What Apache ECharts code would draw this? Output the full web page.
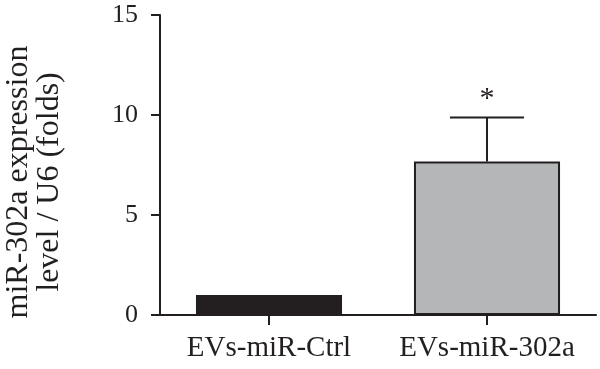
<!DOCTYPE html>
<html>
<head>
<meta charset="utf-8">
<script src="https://cdn.jsdelivr.net/npm/echarts@6/dist/echarts.min.js"></script>
<style>html,body{margin:0;padding:0;background:#fff}#c{width:600px;height:369px}</style>
</head>
<body>
<div id="c"></div>
<script>
const categories = ['EVs-miR-Ctrl', 'EVs-miR-302a'];
const means = [1.0, 7.68];
const errors = [0, 2.2];
const significance = ['', '*'];
const yTicks = [0, 5, 10, 15];

const FONT = 'Liberation Serif';
const chart = echarts.init(document.getElementById('c'));
chart.setOption({
  animation: false,
  grid: { left: 160, right: 4, top: 15, bottom: 54, outerBoundsMode: 'none', containLabel: false },
  xAxis: {
    type: 'category',
    data: categories,
    axisLine: { lineStyle: { color: '#231f20', width: 2 } },
    axisTick: { show: true, alignWithLabel: true, length: 10, lineStyle: { color: '#231f20', width: 2 } },
    axisLabel: { color: '#231f20', fontFamily: FONT, fontSize: 29, margin: 19, interval: 0, hideOverlap: false }
  },
  yAxis: {
    type: 'value',
    min: yTicks[0], max: yTicks[yTicks.length - 1], interval: 5,
    splitLine: { show: false },
    axisLine: { show: true, lineStyle: { color: '#231f20', width: 2 } },
    axisTick: { show: true, length: 9, lineStyle: { color: '#231f20', width: 2 } },
    axisLabel: { color: '#231f20', fontFamily: FONT, fontSize: 26, margin: 22 },
    name: 'miR-302a expression\nlevel / U6 (folds)',
    nameLocation: 'middle',
    nameRotate: 90,
    nameGap: 95,
    nameTextStyle: { color: '#231f20', fontFamily: FONT, fontSize: 32, lineHeight: 31, padding: [0, 34, 0, 0] }
  },
  series: [
    {
      type: 'bar',
      barWidth: '67%',
      data: means.map((v, i) => ({
        value: v,
        itemStyle: i === 0
          ? { color: '#231f20', borderColor: '#231f20', borderWidth: 2 }
          : { color: '#b5b6b8', borderColor: '#231f20', borderWidth: 2 }
      })),
      z: 2
    },
    {
      type: 'custom',
      z: 3,
      data: means.map((v, i) => [i, v, errors[i], significance[i]]),
      renderItem: function (params, api) {
        const i = api.value(0);
        const m = api.value(1);
        const e = api.value(2);
        const s = significance[params.dataIndex];
        const children = [];
        if (e > 0) {
          const base = api.coord([i, m]);
          const top = api.coord([i, m + e]);
          const half = api.size([1, 0])[0] * 0.17;
          children.push({ type: 'line', shape: { x1: base[0], y1: base[1], x2: top[0], y2: top[1] }, style: { stroke: '#231f20', lineWidth: 2 } });
          children.push({ type: 'line', shape: { x1: top[0] - half, y1: top[1], x2: top[0] + half, y2: top[1] }, style: { stroke: '#231f20', lineWidth: 2 } });
          if (s) {
            children.push({ type: 'text', style: { text: s, x: top[0], y: top[1] - 3, textAlign: 'center', textVerticalAlign: 'bottom', fontFamily: FONT, fontSize: 30, fill: '#231f20' } });
          }
        }
        return { type: 'group', children: children };
      }
    }
  ]
});
</script>
</body>
</html>
